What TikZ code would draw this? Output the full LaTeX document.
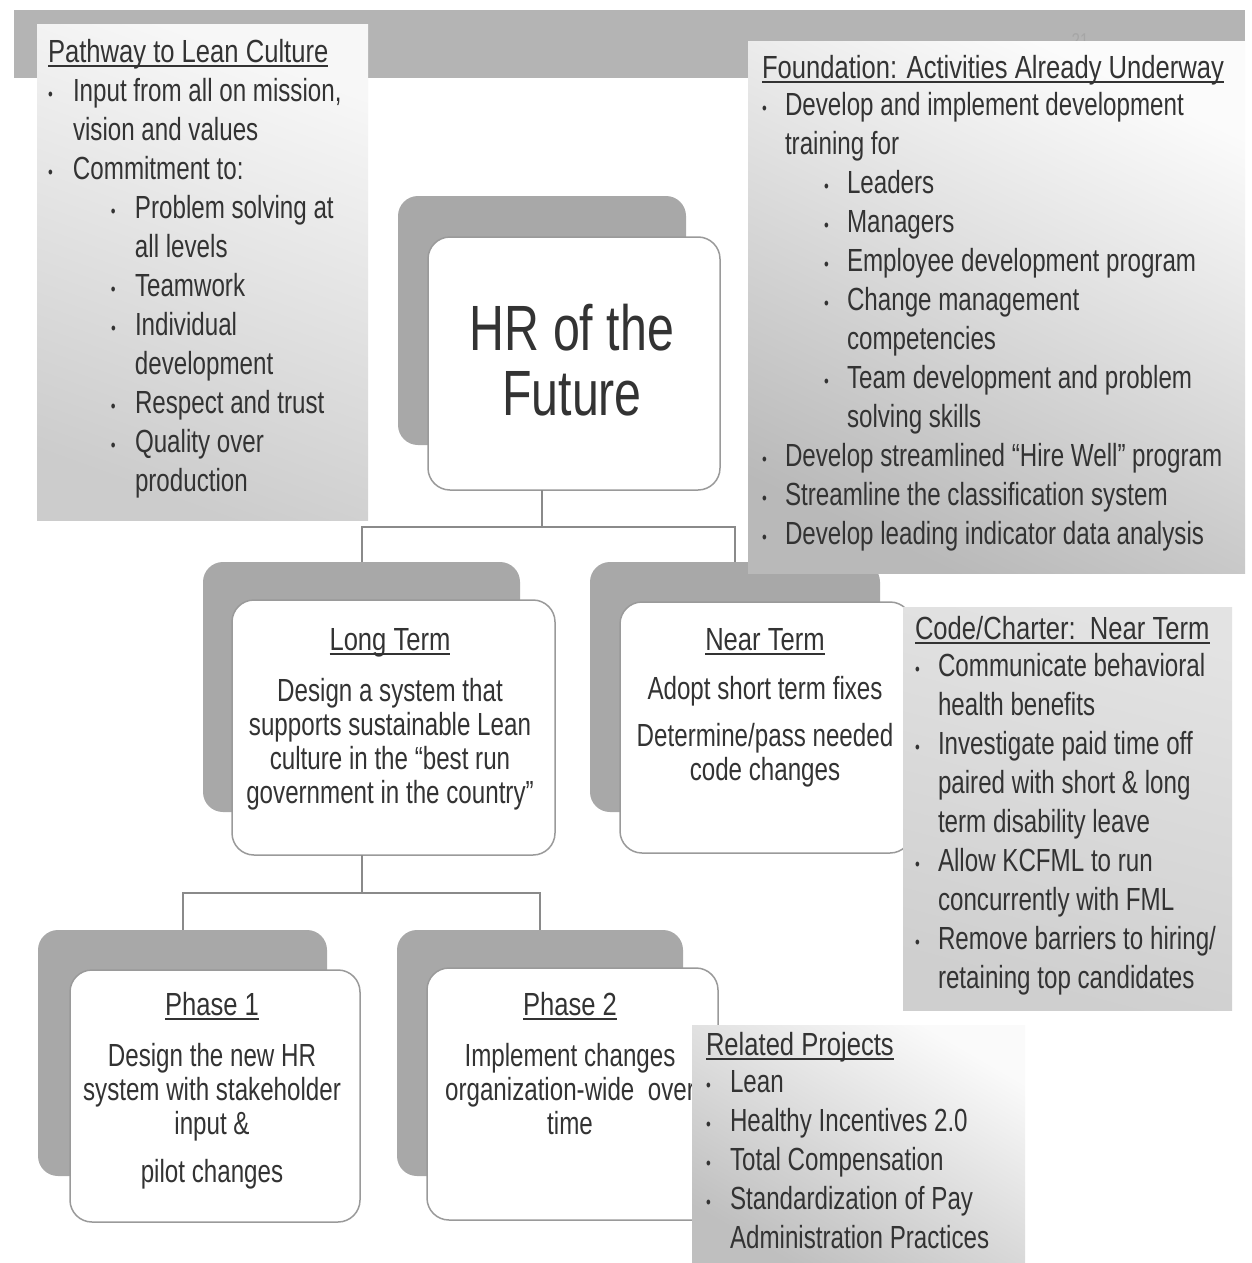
\documentclass[tikz,border=0pt]{standalone}
\usepackage{fontspec}
\setmainfont[FakeStretch=0.755]{Liberation Sans}
\newfontfamily\ttlfont[FakeStretch=0.8]{Liberation Sans}
\definecolor{txtc}{HTML}{333333}
\definecolor{shd}{HTML}{A8A8A8}
\definecolor{frm}{HTML}{9A9A9A}
\definecolor{barc}{HTML}{B4B4B4}
\definecolor{conn}{HTML}{8A8A8A}
\newsavebox\ulbox
\newcommand\ul[1]{\sbox\ulbox{#1}\rlap{\rule[-5pt]{\wd\ulbox}{2pt}}\usebox\ulbox}
\newcommand\bl[1][23pt]{\makebox[#1][l]{\raisebox{1pt}{\fontsize{18}{18}\selectfont •}}}
\tikzset{
  shadowbox/.style={fill=shd, draw=none, rounded corners=20pt, inner sep=0pt, outer sep=0pt, anchor=north west},
  frontbox/.style={fill=white, draw=frm, line width=1.5pt, rounded corners=22pt, inner sep=0pt, outer sep=0pt, anchor=north west},
  panel/.style={inner sep=0pt, outer sep=0pt, anchor=north west, draw=none},
  bodytext/.style={inner sep=0pt, outer sep=0pt, text=txtc, font=\fontsize{32}{39}\selectfont},
  boxtext/.style={inner sep=0pt, outer sep=0pt, text=txtc, align=center, anchor=base, font=\fontsize{32}{34}\selectfont},
  connector/.style={draw=conn, line width=2pt}
}
\begin{document}
\begin{tikzpicture}[x=1pt, y=-1pt]
\useasboundingbox (0,0) rectangle (1251,1263);
\fill[white] (0,0) rectangle (1251,1263);

% top bar
\node[panel, fill=barc, minimum width=1231pt, minimum height=68pt] (bar) at (14,10) {};
\node[inner sep=0pt, text=gray!70, font=\fontsize{20}{20}\selectfont, anchor=base] (slnum) at (1080,48) {21};

% Pathway to Lean Culture
\node[panel, minimum width=331pt, minimum height=495pt, top color=gray!6, bottom color=gray!40, shading angle=-20] (pwB) at (37,25) {};
\node[bodytext, align=left, anchor=base west] (pwT) at (48,491) {\ul{\ttlfont Pathway to Lean Culture}\\
\bl[25pt]Input from all on mission,\\
\hspace*{25pt}vision and values\\
\bl[25pt]Commitment to:\\
\hspace*{63pt}\bl[24pt]Problem solving at\\
\hspace*{87pt}all levels\\
\hspace*{63pt}\bl[24pt]Teamwork\\
\hspace*{63pt}\bl[24pt]Individual\\
\hspace*{87pt}development\\
\hspace*{63pt}\bl[24pt]Respect and trust\\
\hspace*{63pt}\bl[24pt]Quality over\\
\hspace*{87pt}production};

% HR of the Future
\node[shadowbox, minimum width=288pt, minimum height=249pt] (hrS) at (398,196) {};
\node[frontbox, minimum width=292pt, minimum height=253pt] (hrF) at (428,237) {};
\node[inner sep=0pt, text=txtc, align=center, anchor=base, font=\fontsize{64}{65}\selectfont] (hrT) at (572,415) {HR of the\\Future};

% Long Term
\node[shadowbox, minimum width=317pt, minimum height=250pt] (ltS) at (203,562) {};
\node[frontbox, minimum width=323pt, minimum height=255pt] (ltF) at (232,600) {};
\node[boxtext] (ltT) at (390,803) {\ul{\ttlfont Long Term}\\[17pt]
Design a system that\\
supports sustainable Lean\\
culture in the “best run\\
government in the country”};

% Near Term shadow
\node[shadowbox, minimum width=290pt, minimum height=250pt] (ntS) at (590,562) {};

% Foundation
\node[panel, minimum width=497pt, minimum height=531pt, top color=gray!3, bottom color=gray!55, shading angle=-25] (fdB) at (748,42) {};
\node[bodytext, align=left, anchor=base west] (fdT) at (762,544) {\ul{\ttlfont Foundation: Activities Already Underway}\\[-2pt]
\bl Develop and implement development\\
\hspace*{23pt}training for\\
\hspace*{62pt}\bl Leaders\\
\hspace*{62pt}\bl Managers\\
\hspace*{62pt}\bl Employee development program\\
\hspace*{62pt}\bl Change management\\
\hspace*{85pt}competencies\\
\hspace*{62pt}\bl Team development and problem\\
\hspace*{85pt}solving skills\\
\bl Develop streamlined “Hire Well” program\\
\bl Streamline the classification system\\
\bl Develop leading indicator data analysis};

% Near Term front
\node[frontbox, minimum width=292pt, minimum height=251pt] (ntF) at (620,602) {};
\node[boxtext] (ntT) at (765,780) {\ul{\ttlfont Near Term}\\[15pt]
Adopt short term fixes\\[13pt]
Determine/pass needed\\
code changes};

% Code/Charter
\node[panel, minimum width=329pt, minimum height=403pt, top color=gray!22, bottom color=gray!38, shading angle=-15] (ccB) at (903,607) {};
\node[bodytext, align=left, anchor=base west] (ccT) at (915,988) {\ul{\ttlfont Code/Charter:\ \ Near Term}\\[-2pt]
\bl Communicate behavioral\\
\hspace*{23pt}health benefits\\
\bl Investigate paid time off\\
\hspace*{23pt}paired with short \& long\\
\hspace*{23pt}term disability leave\\
\bl Allow KCFML to run\\
\hspace*{23pt}concurrently with FML\\
\bl Remove barriers to hiring/\\
\hspace*{23pt}retaining top candidates};

% Phase 1
\node[shadowbox, minimum width=289pt, minimum height=246pt] (p1S) at (38,930) {};
\node[frontbox, minimum width=290pt, minimum height=252pt] (p1F) at (70,970) {};
\node[boxtext] (p1T) at (212,1182) {\ul{\ttlfont Phase 1}\\[17pt]
Design the new HR\\
system with stakeholder\\
input \&\\[14pt]
pilot changes};

% Phase 2
\node[shadowbox, minimum width=286pt, minimum height=246pt] (p2S) at (397,930) {};
\node[frontbox, minimum width=291pt, minimum height=252pt] (p2F) at (427,968) {};
\node[boxtext] (p2T) at (570,1134) {\ul{\ttlfont Phase 2}\\[17pt]
Implement changes\\
organization-wide\ \ over\\
time};

% Related Projects
\node[panel, minimum width=333pt, minimum height=238pt, top color=gray!4, bottom color=gray!50, shading angle=-30] (rpB) at (692,1025) {};
\node[bodytext, align=left, anchor=base west] (rpT) at (706,1248) {\ul{\ttlfont Related Projects}\\[-2pt]
\bl[24pt]Lean\\
\bl[24pt]Healthy Incentives 2.0\\
\bl[24pt]Total Compensation\\
\bl[24pt]Standardization of Pay\\
\hspace*{24pt}Administration Practices};

% connectors
\coordinate (j1) at ([yshift=-37pt]hrS.center |- hrF.south);
\draw[connector] (hrS.center |- hrF.south) -- (j1);
\draw[connector] (j1) -| (ltS.north);
\draw[connector] (j1) -| (ntS.north);
\coordinate (j2) at ([yshift=-38pt]ltS.center |- ltF.south);
\draw[connector] (ltS.center |- ltF.south) -- (j2);
\draw[connector] (j2) -| (p1S.north);
\draw[connector] (j2) -| (p2S.north);
\end{tikzpicture}
\end{document}
